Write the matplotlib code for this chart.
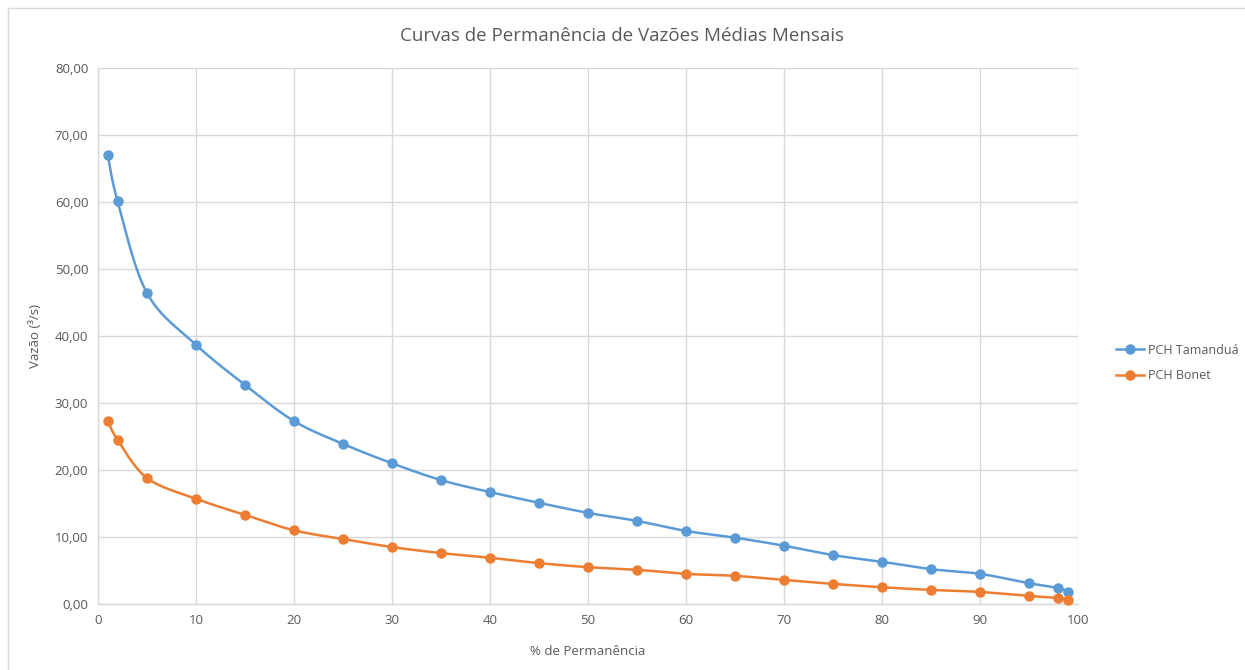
import numpy as np
import matplotlib.pyplot as plt
from matplotlib.lines import Line2D

# Permanence percentages (x) and monthly mean flows for each plant
permanencia = [1, 2, 5, 10, 15, 20, 25, 30, 35, 40, 45, 50, 55, 60, 65, 70, 75, 80, 85, 90, 95, 98, 99]
tamandua = [67.0, 60.1, 46.4, 38.7, 32.7, 27.3, 23.9, 21.0, 18.5, 16.7, 15.1, 13.6, 12.4, 10.9,
            9.9, 8.7, 7.3, 6.3, 5.2, 4.5, 3.1, 2.4, 1.8]
bonet = [27.3, 24.5, 18.8, 15.7, 13.3, 11.0, 9.7, 8.5, 7.6, 6.9, 6.1, 5.5, 5.1, 4.5,
         4.2, 3.6, 3.0, 2.5, 2.1, 1.8, 1.2, 0.9, 0.6]
y_ticks = [0, 10, 20, 30, 40, 50, 60, 70, 80]
x_ticks = [0, 10, 20, 30, 40, 50, 60, 70, 80, 90, 100]

blue = '#5B9BD5'
orange = '#ED7D31'
text_color = '#595959'
grid_color = '#D9D9D9'

plt.rcParams['font.family'] = ['Open Sans', 'DejaVu Sans']


# Smooth line through the points like Excel's "smoothed line" (Catmull-Rom style Bezier)
def smooth(xs, ys, steps=30):
    x = np.array(xs, dtype=float)
    y = np.array(ys, dtype=float)
    xo, yo = [], []
    n = len(x)
    for i in range(n - 1):
        x0, y0 = (x[i - 1], y[i - 1]) if i > 0 else (x[i], y[i])
        x3, y3 = (x[i + 2], y[i + 2]) if i + 2 < n else (x[i + 1], y[i + 1])
        x1, y1, x2, y2 = x[i], y[i], x[i + 1], y[i + 1]
        c1x, c1y = x1 + (x2 - x0) / 6, y1 + (y2 - y0) / 6
        c2x, c2y = x2 - (x3 - x1) / 6, y2 - (y3 - y1) / 6
        t = np.linspace(0, 1, steps)
        xo.append((1 - t) ** 3 * x1 + 3 * (1 - t) ** 2 * t * c1x + 3 * (1 - t) * t ** 2 * c2x + t ** 3 * x2)
        yo.append((1 - t) ** 3 * y1 + 3 * (1 - t) ** 2 * t * c1y + 3 * (1 - t) * t ** 2 * c2y + t ** 3 * y2)
    return np.concatenate(xo), np.concatenate(yo)


fig = plt.figure(figsize=(12.45, 6.70), dpi=100)
ax = fig.add_axes([98 / 1245, 1 - 604 / 670, 980 / 1245, 536 / 670])

for vals, col in [(tamandua, blue), (bonet, orange)]:
    sx, sy = smooth(permanencia, vals)
    ax.plot(sx, sy, color=col, linewidth=1.8, zorder=3, clip_on=False)
    ax.plot(permanencia, vals, linestyle='none', marker='o', markersize=6.5, color=col, zorder=4, clip_on=False)

ax.set_xlim(0, 100)
ax.set_ylim(0, 80)
ax.set_xticks(x_ticks)
ax.set_yticks(y_ticks)
ax.set_yticklabels([('%.2f' % v).replace('.', ',') for v in y_ticks])
ax.grid(True, color=grid_color, linewidth=1)
ax.set_axisbelow(True)
for s in ['top', 'right']:
    ax.spines[s].set_visible(False)
for s in ['left', 'bottom']:
    ax.spines[s].set_color(grid_color)
    ax.spines[s].set_linewidth(1)
ax.tick_params(length=0, labelsize=9.5, colors=text_color, pad=7)

ax.set_xlabel('% de Permanência', fontsize=9.5, color=text_color, labelpad=13)
ax.set_ylabel('Vazão (³/s)', fontsize=9.5, color=text_color, labelpad=9)
fig.text(0.5, 1 - 36 / 670, 'Curvas de Permanência de Vazões Médias Mensais', ha='center', va='center',
         fontsize=13.5, color=text_color)

handles = [Line2D([], [], color=blue, marker='o', markersize=6.5, linewidth=1.8),
           Line2D([], [], color=orange, marker='o', markersize=6.5, linewidth=1.8)]
fig.legend(handles, ['PCH Tamanduá', 'PCH Bonet'], loc='center left', bbox_to_anchor=(1105 / 1245, 1 - 363 / 670),
           frameon=False, fontsize=9, labelcolor=text_color, handlelength=2.2, handletextpad=0.3,
           labelspacing=1.0)

# Chart area border (top and left visible in the reference)
fig.add_artist(Line2D([8 / 1245, 8 / 1245], [0, 1 - 8 / 670], transform=fig.transFigure, color=grid_color, linewidth=1))
fig.add_artist(Line2D([8 / 1245, 1], [1 - 8 / 670, 1 - 8 / 670], transform=fig.transFigure, color=grid_color, linewidth=1))

plt.savefig('out.png', dpi=100)
